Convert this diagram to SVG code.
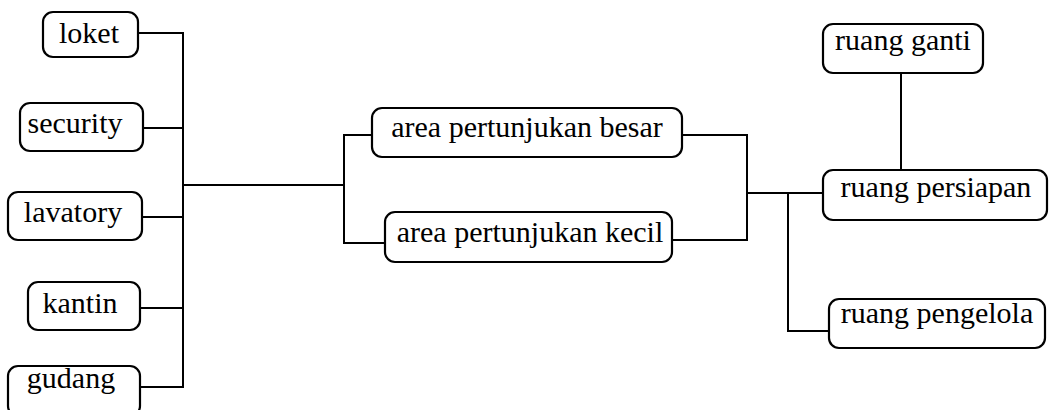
<svg xmlns="http://www.w3.org/2000/svg" width="1049" height="410" viewBox="0 0 1049 410">
  <style>
    .box { fill: #ffffff; stroke: #000000; stroke-width: 2.2; }
    .lbl { font-family: 'Liberation Serif', 'Times New Roman', serif; font-size: 30px; fill: #000000; text-anchor: middle; }
    .wire { fill: none; stroke: #000000; stroke-width: 2; }
  </style>
  <rect width="1049" height="410" fill="#ffffff"/>

  <g id="connectors">
    <!-- left service spine -->
    <path class="wire" d="M138 33 H183 V387 H140"/>
    <path class="wire" d="M143 128 H183"/>
    <path class="wire" d="M142 217 H183"/>
    <path class="wire" d="M140 308 H183"/>
    <path class="wire" d="M183 185 H344"/>
    <!-- performance areas -->
    <path class="wire" d="M372 135 H344 V243 H385"/>
    <path class="wire" d="M682 135 H747 V240 H672"/>
    <!-- backstage -->
    <path class="wire" d="M747 193 H823"/>
    <path class="wire" d="M788 193 V331 H829"/>
    <path class="wire" d="M901 73 V170"/>
  </g>

  <g id="nodes">
    <g id="loket">
      <rect class="box" x="43" y="12" width="95" height="45" rx="10"/>
      <text class="lbl" x="89" y="43">loket</text>
    </g>
    <g id="security">
      <rect class="box" x="20" y="103" width="123" height="48" rx="10"/>
      <text class="lbl" x="75" y="133">security</text>
    </g>
    <g id="lavatory">
      <rect class="box" x="8" y="192" width="134" height="48" rx="10"/>
      <text class="lbl" x="73" y="222">lavatory</text>
    </g>
    <g id="kantin">
      <rect class="box" x="28" y="282" width="112" height="48" rx="10"/>
      <text class="lbl" x="80" y="313">kantin</text>
    </g>
    <g id="gudang">
      <rect class="box" x="8" y="366" width="132" height="50" rx="10"/>
      <text class="lbl" x="71" y="388">gudang</text>
    </g>
    <g id="area-besar">
      <rect class="box" x="372" y="108" width="310" height="49" rx="10"/>
      <text class="lbl" x="527" y="137">area pertunjukan besar</text>
    </g>
    <g id="area-kecil">
      <rect class="box" x="385" y="212" width="287" height="50" rx="10"/>
      <text class="lbl" x="530" y="242">area pertunjukan kecil</text>
    </g>
    <g id="ruang-ganti">
      <rect class="box" x="823" y="24" width="160" height="49" rx="10"/>
      <text class="lbl" x="903" y="50">ruang ganti</text>
    </g>
    <g id="ruang-persiapan">
      <rect class="box" x="823" y="170" width="224" height="50" rx="10"/>
      <text class="lbl" x="936" y="197">ruang persiapan</text>
    </g>
    <g id="ruang-pengelola">
      <rect class="box" x="829" y="299" width="216" height="49" rx="10"/>
      <text class="lbl" x="937" y="323">ruang pengelola</text>
    </g>
  </g>
</svg>
